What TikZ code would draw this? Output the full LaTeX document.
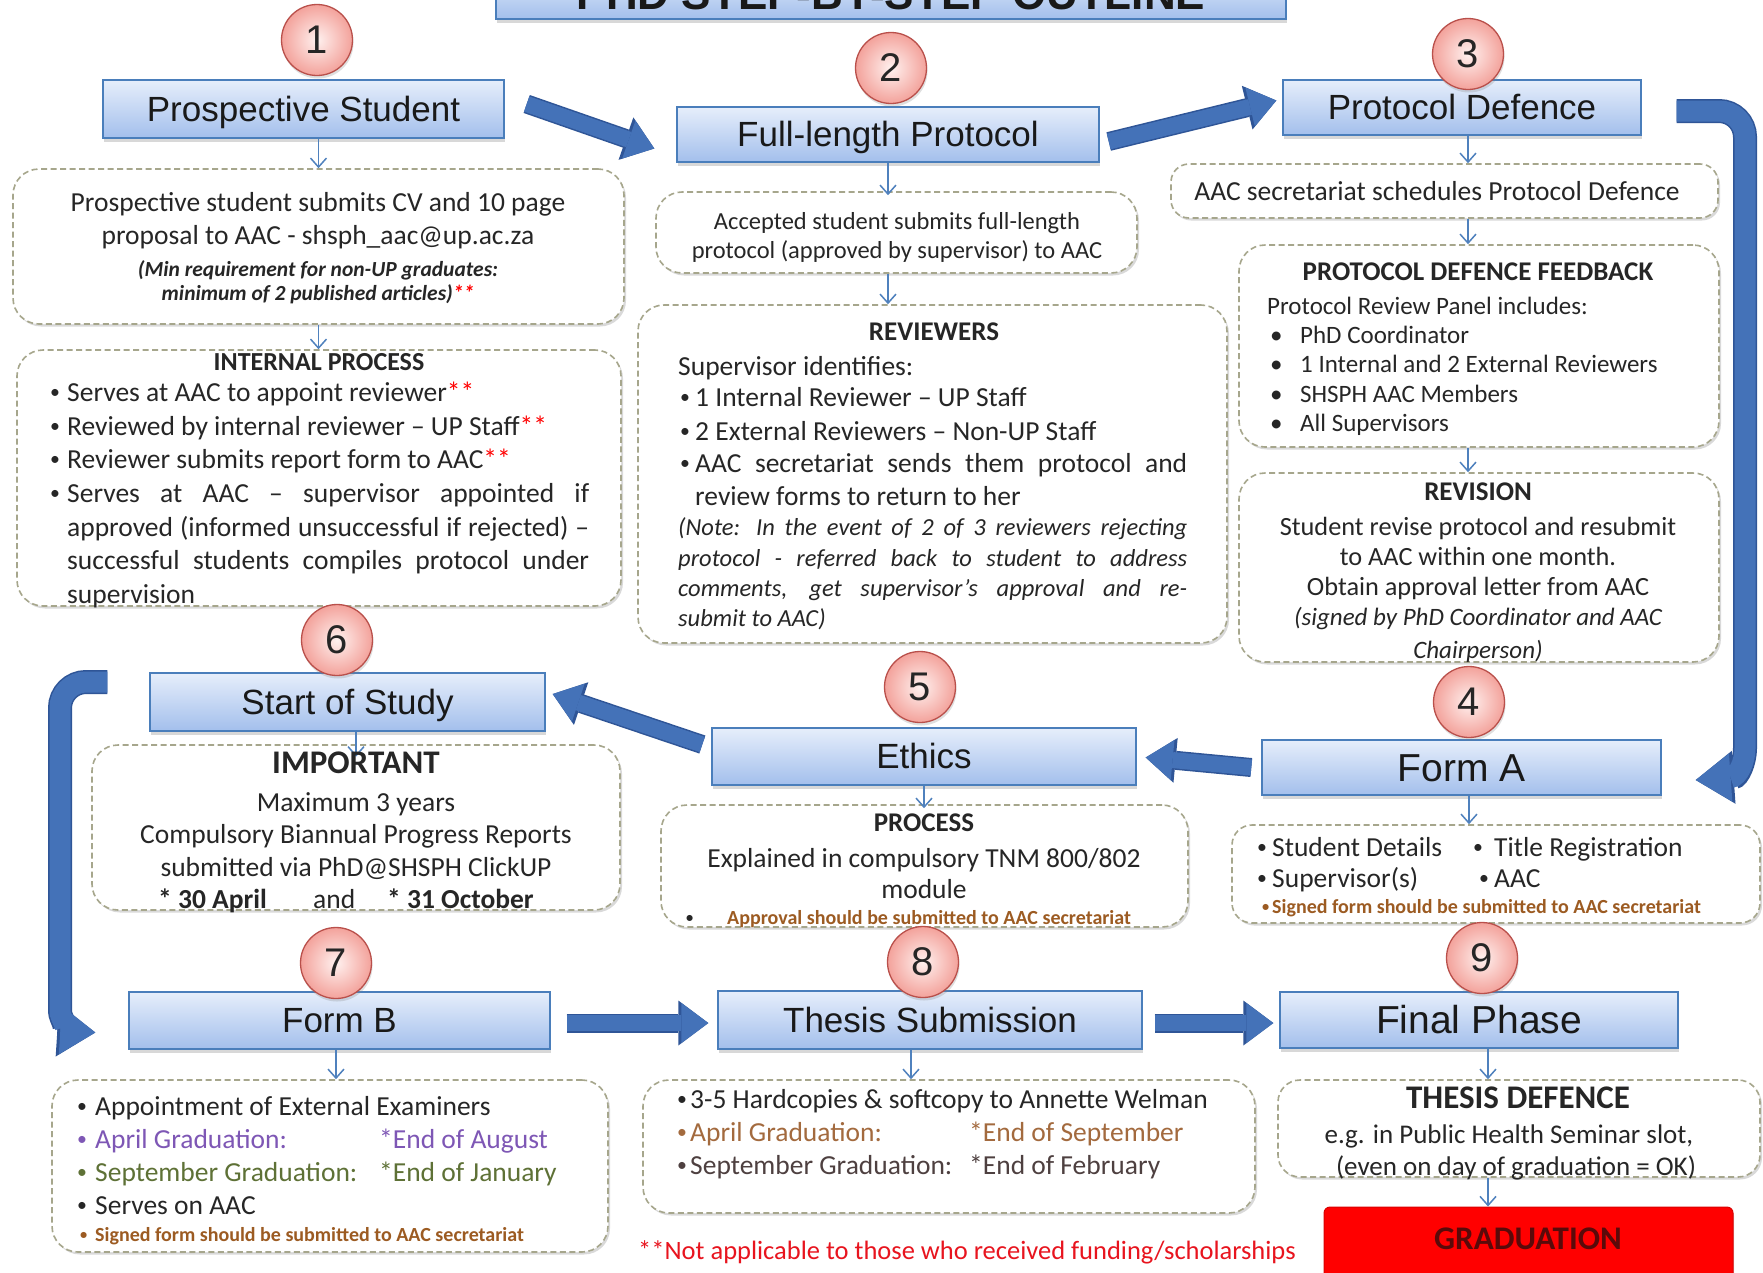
\documentclass[tikz,border=0pt]{standalone}
\usepackage{fontspec}
\setmainfont{Carlito}
\newfontfamily\arialf{Liberation Sans}
\usetikzlibrary{arrows.meta,shadows,calc}
\definecolor{txtc}{HTML}{262626}
\definecolor{boxdraw}{HTML}{4A7EBB}
\definecolor{boxtop}{HTML}{E6EEFB}
\definecolor{boxbot}{HTML}{A3BFEC}
\definecolor{circdraw}{HTML}{B9504B}
\definecolor{circin}{HTML}{FFF1EF}
\definecolor{circout}{HTML}{F3A29B}
\definecolor{arrowc}{HTML}{4472B8}
\definecolor{arrowd}{HTML}{2F5597}
\definecolor{thinc}{HTML}{4F81BD}
\definecolor{dashc}{HTML}{A6A68C}
\definecolor{brownc}{HTML}{9C5B22}
\definecolor{purplec}{HTML}{7E57B5}
\definecolor{olivec}{HTML}{5E7136}
\definecolor{tsbrown}{HTML}{A36A3E}
\definecolor{tsdark}{HTML}{4E4040}
\definecolor{footred}{HTML}{E8141E}
\definecolor{gradtxt}{HTML}{5A0A0A}
\newcommand\fsz[2]{\fontsize{#1pt}{#2pt}\selectfont}
\newcommand\bul{\raisebox{0.1em}{\scalebox{0.72}{•}}}
\begin{document}
\begin{tikzpicture}[x=1pt,y=-1pt,
  bluebox/.style={draw=boxdraw, line width=1.4pt, top color=boxtop, bottom color=boxbot,
    inner sep=0pt, text height=24pt, text depth=0pt, font=\arialf\fsz{35}{40}, text=black!90,
    drop shadow={shadow xshift=1pt, shadow yshift=-4pt, opacity=0.3}},
  numc/.style={circle, minimum size=71pt, inner sep=0pt, draw=circdraw, line width=1.3pt,
    inner color=circin, outer color=circout, font=\arialf\fsz{40}{44}, text=black!85,
    drop shadow={shadow xshift=1pt, shadow yshift=-3pt, opacity=0.25}},
  dbox/.style={draw=dashc, dash pattern=on 6pt off 3.5pt, line width=1.6pt, rounded corners=26pt,
    fill=white, inner sep=0pt,
    drop shadow={shadow xshift=2pt, shadow yshift=-2.5pt, opacity=0.15, fill=black}},
  body/.style={inner sep=0pt, text=txtc, font=\fsz{27.5}{33}},
  smallb/.style={inner sep=0pt, text=txtc, font=\fsz{24.5}{29}},
  ital/.style={inner sep=0pt, text=txtc, font=\itshape\fsz{24.5}{29}},
  hd/.style={inner sep=0pt, text=txtc, font=\bfseries\fsz{27}{32}},
  brn/.style={inner sep=0pt, text=brownc, font=\bfseries\fsz{20}{24}},
  tarr/.style={draw=thinc, line width=1.5pt, -{Straight Barb[length=9pt,width=16pt]}},
  bigarrow/.style={draw=arrowc, line width=16pt, -{Triangle[width=40pt,length=27pt,line width=0pt]},
    preaction={draw=arrowd, line width=19pt, -{Triangle[width=45pt,length=30pt,line width=0pt]}}},
  bentarrow/.style={draw=arrowc, line width=21pt, rounded corners=26pt,
    -{Triangle[width=48pt,length=35pt,line width=0pt]},
    preaction={draw=arrowd, line width=24pt, -{Triangle[width=53pt,length=38pt,line width=0pt]}}}
]
\useasboundingbox (0,0) rectangle (1763,1272);
\fill[white] (0,0) rectangle (1763,1272);

% title (cut off at the top edge, as in the reference)
\node[bluebox, minimum width=790pt, minimum height=51pt, text height=32pt,
  font=\arialf\bfseries\fsz{44}{48}] (title) at (891,-6.5) {PHD STEP-BY-STEP OUTLINE};

% dashed boxes
\node[dbox, minimum width=611pt, minimum height=155pt] (b1) at (318.5,246.5) {};
\node[dbox, minimum width=604pt, minimum height=256pt] (ip) at (319,478) {};
\node[dbox, minimum width=481pt, minimum height=81pt] (fltxt) at (896.5,232.5) {};
\node[dbox, minimum width=589pt, minimum height=338pt] (rev) at (932.5,474) {};
\node[dbox, minimum width=547pt, minimum height=54pt, rounded corners=18pt] (aac) at (1444.5,191) {};
\node[dbox, minimum width=480pt, minimum height=202pt] (pdf) at (1479,346) {};
\node[dbox, minimum width=480pt, minimum height=189pt] (revb) at (1479,567.5) {};
\node[dbox, minimum width=528pt, minimum height=165pt] (imp) at (356,827.5) {};
\node[dbox, minimum width=527pt, minimum height=122pt] (proc) at (924.5,866) {};
\node[dbox, minimum width=528pt, minimum height=98pt, rounded corners=20pt] (fad) at (1496,874) {};
\node[dbox, minimum width=556pt, minimum height=172pt] (fbd) at (330,1166) {};
\node[dbox, minimum width=612pt, minimum height=133pt] (tsd) at (949,1146.5) {};
\node[dbox, minimum width=482pt, minimum height=97pt, rounded corners=22pt] (tdef) at (1519,1128.5) {};
\node[fill=red, draw=red!85!black, line width=1pt, rounded corners=6pt, minimum width=409pt,
  minimum height=83pt, inner sep=0pt,
  drop shadow={shadow xshift=1pt, shadow yshift=-3pt, opacity=0.3}] (grad) at (1528.5,1248.5) {};

% blue step boxes
\node[bluebox, minimum width=401pt, minimum height=58pt] (ps) at (303.5,109) {Prospective Student};
\node[bluebox, minimum width=422pt, minimum height=55pt] (fl) at (888,134.5) {Full-length Protocol};
\node[bluebox, minimum width=358pt, minimum height=55pt] (pd) at (1462,107.5) {Protocol Defence};
\node[bluebox, minimum width=395pt, minimum height=58pt] (sos) at (347.5,702) {Start of Study};
\node[bluebox, minimum width=424pt, minimum height=57pt] (eth) at (924,756.5) {Ethics};
\node[bluebox, minimum width=399pt, minimum height=55pt, text height=27pt, font=\arialf\fsz{39}{44}] (fa) at (1461.5,767.5) {Form A};
\node[bluebox, minimum width=421pt, minimum height=57pt] (fb) at (339.5,1020.5) {Form B};
\node[bluebox, minimum width=424pt, minimum height=58pt] (ts) at (930,1020) {Thesis Submission};
\node[bluebox, minimum width=398pt, minimum height=56pt, text height=27pt, font=\arialf\fsz{39}{44}] (fp) at (1479,1020) {Final Phase};

% number circles
\node[numc] (c1) at (317,40) {1};
\node[numc] (c2) at (891,68) {2};
\node[numc] (c3) at (1468,54) {3};
\node[numc] (c4) at (1469,702) {4};
\node[numc] (c5) at (920,687) {5};
\node[numc] (c6) at (337,640) {6};
\node[numc] (c7) at (336,963) {7};
\node[numc] (c8) at (923,962) {8};
\node[numc] (c9) at (1482,958) {9};

% big arrows
\draw[bigarrow] ($(ps.east)+(22,-5)$) -- ($(fl.west)+(-22,14)$);
\draw[bigarrow] ($(fl.east)+(9,7)$) -- ($(pd.west)+(-6,-7)$);
\draw[bigarrow] ($(fa.west)+(-10,0)$) -- ($(eth.east)+(9,1)$);
\draw[bigarrow] ($(eth.west)+(-9,-12)$) -- ($(sos.east)+(7,-8)$);
\draw[bigarrow] ($(fb.east)+(16,2.5)$) -- ($(ts.west)+(-9,3)$);
\draw[bigarrow] ($(ts.east)+(12,3)$) -- ($(fp.west)+(-6,3)$);
\draw[bentarrow] ($(pd.east)+(35,3.5)$) -- (1745,111) -- (1745,722) .. controls (1745,762) and (1738,777) .. ($(fa.east)+(34,12.5)$);
\draw[bentarrow] ($(sos.west)+(-42,-20)$) -- (60,682) -- (60,985) .. controls (60,1020) and (72,1031) .. ($(fb.west)+(-33,12)$);

% thin arrows
\draw[tarr] (ps.south -| b1.north) -- (b1.north);
\draw[tarr] (b1.south) -- (ip.north -| b1.south);
\draw[tarr] (fl.south) -- ($(fl.south |- fltxt.north)+(0,4)$);
\draw[tarr] (fltxt.south -| fl.south) -- (rev.north -| fl.south);
\draw[tarr] (pd.south -| c3) -- (aac.north -| c3);
\draw[tarr] (aac.south -| c3) -- (pdf.north -| c3);
\draw[tarr] (pdf.south -| c3) -- (revb.north -| c3);
\draw[tarr] (sos.south -| imp.north) -- ++(0,25);
\draw[tarr] (eth.south) -- ($(eth.south |- proc.north)+(0,4)$);
\draw[tarr] (fa.south -| c4) -- (fad.north -| c4);
\draw[tarr] (fb.south -| c7) -- (fbd.north -| c7);
\draw[tarr] ($(ts.south)+(-19,0)$) -- ($(ts.south |- tsd.north)+(-19,0)$);
\draw[tarr] ($(fp.south)+(9,0)$) -- ($(fp.south |- tdef.north)+(9,0)$);
\draw[tarr] ($(tdef.south -| fp.south)+(9,0)$) -- ($(grad.north -| fp.south)+(9,0)$);

% box 1 text
\node[body, anchor=base] (t1a) at (318,211) {Prospective student submits CV and 10 page};
\node[body, anchor=base] (t1b) at (318,244) {proposal to AAC - shsph\_aac@up.ac.za};
\node[inner sep=0pt, text=txtc, font=\bfseries\itshape\fsz{21.5}{26}, anchor=base] (t1c) at (318,276) {(Min requirement for non-UP graduates:};
\node[inner sep=0pt, text=txtc, font=\bfseries\itshape\fsz{21.5}{26}, anchor=base] (t1d) at (318,300) {minimum of 2 published articles)\textcolor{red}{**}};

% internal process
\node[hd, font=\bfseries\fsz{26}{30}, anchor=base] (ipH) at (319,370) {INTERNAL PROCESS};
\node[body, anchor=base west] (ip1) at (50,401) {\makebox[17pt][l]{\bul}Serves at AAC to appoint reviewer\textcolor{red}{**}};
\node[body, anchor=base west] (ip2) at (50,435) {\makebox[17pt][l]{\bul}Reviewed by internal reviewer -- UP Staff\textcolor{red}{**}};
\node[body, anchor=base west] (ip3) at (50,468) {\makebox[17pt][l]{\bul}Reviewer submits report form to AAC\textcolor{red}{**}};
\node[body, anchor=base west] (ip4) at (50,502) {\makebox[17pt][l]{\bul}\makebox[522pt][s]{Serves at AAC -- supervisor appointed if}};
\node[body, anchor=base west] (ip5) at (67,536) {\makebox[522pt][s]{approved (informed unsuccessful if rejected) --}};
\node[body, anchor=base west] (ip6) at (67,569) {\makebox[522pt][s]{successful students compiles protocol under}};
\node[body, anchor=base west] (ip7) at (67,603) {supervision};

% full-length text
\node[smallb, anchor=base] (fl1) at (897,229) {Accepted student submits full-length};
\node[smallb, anchor=base] (fl2) at (897,258) {protocol (approved by supervisor) to AAC};

% reviewers
\node[hd, anchor=base] (rvH) at (934,340) {REVIEWERS};
\node[body, anchor=base west] (rv1) at (678,375) {Supervisor identifies:};
\node[body, anchor=base west] (rv2) at (680,406) {\makebox[15pt][l]{\bul}1 Internal Reviewer -- UP Staff};
\node[body, anchor=base west] (rv3) at (680,440) {\makebox[15pt][l]{\bul}2 External Reviewers -- Non-UP Staff};
\node[body, anchor=base west] (rv4) at (680,472) {\makebox[15pt][l]{\bul}\makebox[492pt][s]{AAC secretariat sends them protocol and}};
\node[body, anchor=base west] (rv5) at (695,505) {review forms to return to her};
\node[ital, anchor=base west] (rv6) at (678,535) {\makebox[509pt][s]{(Note: In the event of 2 of 3 reviewers rejecting}};
\node[ital, anchor=base west] (rv7) at (678,566) {\makebox[509pt][s]{protocol - referred back to student to address}};
\node[ital, anchor=base west] (rv8) at (678,596) {\makebox[509pt][s]{comments, get supervisor’s approval and re-}};
\node[ital, anchor=base west] (rv9) at (678,626) {submit to AAC)};

% AAC secretariat
\node[body, anchor=base] (aac1) at (1437,200) {AAC secretariat schedules Protocol Defence};

% protocol defence feedback
\node[hd, anchor=base] (pdH) at (1478,280) {PROTOCOL DEFENCE FEEDBACK};
\node[body, font=\fsz{25}{30}, anchor=base west] (pd1) at (1267,314) {Protocol Review Panel includes:};
\node[body, font=\fsz{25}{30}, anchor=base west] (pd2) at (1270,343) {\makebox[30pt][l]{•}PhD Coordinator};
\node[body, font=\fsz{25}{30}, anchor=base west] (pd3) at (1270,372) {\makebox[30pt][l]{•}1 Internal and 2 External Reviewers};
\node[body, font=\fsz{25}{30}, anchor=base west] (pd4) at (1270,402) {\makebox[30pt][l]{•}SHSPH AAC Members};
\node[body, font=\fsz{25}{30}, anchor=base west] (pd5) at (1270,431) {\makebox[30pt][l]{•}All Supervisors};

% revision
\node[hd, anchor=base] (rbH) at (1478,500) {REVISION};
\node[body, font=\fsz{26.3}{31}, anchor=base] (rb1) at (1478,535) {Student revise protocol and resubmit};
\node[body, font=\fsz{26.3}{31}, anchor=base] (rb2) at (1478,565) {to AAC within one month.};
\node[body, font=\fsz{26.3}{31}, anchor=base] (rb3) at (1478,595) {Obtain approval letter from AAC};
\node[ital, font=\itshape\fsz{25}{30}, anchor=base] (rb4) at (1478,625) {(signed by PhD Coordinator and AAC};
\node[ital, font=\itshape\fsz{25}{30}, anchor=base] (rb5) at (1478,658) {Chairperson)};

% important
\node[hd, font=\bfseries\fsz{33}{38}, anchor=base] (imH) at (356,773) {IMPORTANT};
\node[body, anchor=base] (im1) at (356,811) {Maximum 3 years};
\node[body, anchor=base] (im2) at (356,843) {Compulsory Biannual Progress Reports};
\node[body, anchor=base] (im3) at (356,876) {submitted via PhD@SHSPH ClickUP};
\node[body, anchor=base west] (im4) at (158,908) {\makebox[155pt][l]{\textbf{* 30 April}}\makebox[74pt][l]{and}\textbf{* 31 October}};

% ethics process
\node[hd, anchor=base] (prH) at (924,831) {PROCESS};
\node[body, anchor=base] (pr1) at (924,867) {Explained in compulsory TNM 800/802};
\node[body, anchor=base] (pr2) at (924,898) {module};
\node[brn, anchor=base west] (pr3) at (686,924) {\makebox[41pt][l]{\textcolor{txtc}{\bul}}Approval should be submitted to AAC secretariat};

% form A details
\node[body, anchor=base west] (fa1) at (1257,856) {\makebox[216pt][l]{\makebox[15pt][l]{\bul}Student Details}\makebox[21pt][l]{\bul}Title Registration};
\node[body, anchor=base west] (fa2) at (1257,887) {\makebox[222pt][l]{\makebox[15pt][l]{\bul}Supervisor(s)}\makebox[15pt][l]{\bul}AAC};
\node[brn, anchor=base west] (fa3) at (1262,913) {\makebox[10pt][l]{\bul}Signed form should be submitted to AAC secretariat};

% form B details
\node[body, anchor=base west] (fb1) at (77,1115) {\makebox[18pt][l]{\bul}Appointment of External Examiners};
\node[body, text=purplec, anchor=base west] (fb2) at (77,1148) {\makebox[302pt][l]{\makebox[18pt][l]{\bul}April Graduation:}*End of August};
\node[body, text=olivec, anchor=base west] (fb3) at (77,1181) {\makebox[302pt][l]{\makebox[18pt][l]{\bul}September Graduation:}*End of January};
\node[body, anchor=base west] (fb4) at (77,1214) {\makebox[18pt][l]{\bul}Serves on AAC};
\node[brn, anchor=base west] (fb5) at (80,1241) {\makebox[15pt][l]{\bul}Signed form should be submitted to AAC secretariat};

% thesis submission details
\node[body, anchor=base west] (ts1) at (677,1108) {\makebox[13pt][l]{\bul}3-5 Hardcopies \& softcopy to Annette Welman};
\node[body, text=tsbrown, anchor=base west] (ts2) at (677,1141) {\makebox[292pt][l]{\makebox[13pt][l]{\bul}April Graduation:}*End of September};
\node[body, text=tsdark, anchor=base west] (ts3) at (677,1174) {\makebox[292pt][l]{\makebox[13pt][l]{\bul}September Graduation:}*End of February};

% footnote
\node[body, font=\fsz{26.5}{31}, text=footred, anchor=base] (foot) at (967,1259) {**Not applicable to those who received funding/scholarships};

% thesis defence
\node[hd, font=\bfseries\fsz{33}{38}, anchor=base] (tdH) at (1518,1108) {THESIS DEFENCE};
\node[body, font=\fsz{27}{32}, anchor=base] (td1) at (1509,1143) {e.g. in Public Health Seminar slot,};
\node[body, font=\fsz{27}{32}, anchor=base] (td2) at (1516,1175) {(even on day of graduation = OK)};

% graduation
\node[inner sep=0pt, text=gradtxt, font=\bfseries\fsz{33}{38}, anchor=base] (gradt) at (1528,1249) {GRADUATION};
\end{tikzpicture}
\end{document}
